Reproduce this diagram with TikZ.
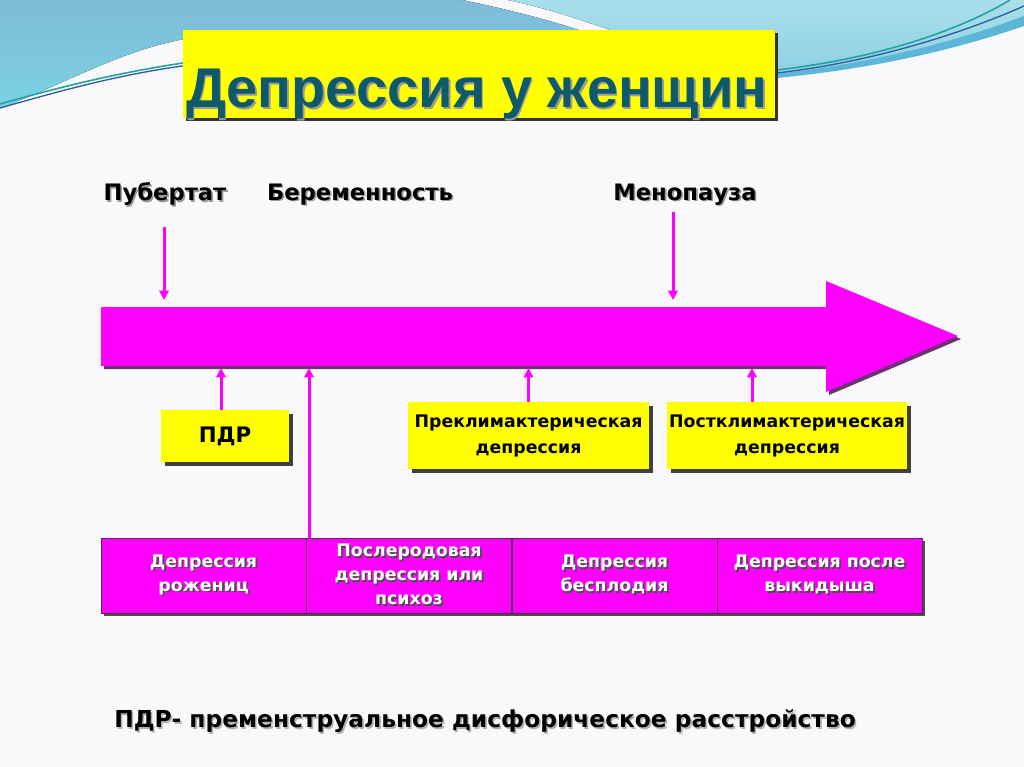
\documentclass[tikz,border=0pt]{standalone}
\usepackage{fontspec}
\setmainfont{DejaVu Sans}
\newfontfamily\titlefont{Liberation Sans}
\usetikzlibrary{arrows.meta,shadows}
\definecolor{mag}{HTML}{FF00FF}
\definecolor{yel}{HTML}{FFFF00}
\definecolor{titleteal}{HTML}{0F5A6A}
\definecolor{bgc}{HTML}{F9F9FB}
\definecolor{blueA}{HTML}{7EBBD8}
\definecolor{blueB}{HTML}{7AD2E2}
\definecolor{blueC}{HTML}{A9DFEA}
\definecolor{blueD}{HTML}{8ECFE4}
\definecolor{blueBand}{HTML}{5CB6D8}
\definecolor{lineteal}{HTML}{22A3A0}
\definecolor{lineblue}{HTML}{2D5E9E}
\definecolor{arrshadow}{HTML}{6A3570}
\definecolor{celledge}{HTML}{5A245A}
\newcommand\shd[2]{\makebox[0pt][l]{\hspace{1.2pt}\raisebox{-1.2pt}{\textcolor{#1}{#2}}}#2}
\tikzset{
  ybox/.style={fill=yel, draw=none, inner sep=0pt,
    drop shadow={shadow xshift=3pt, shadow yshift=-3pt, fill=black!75, opacity=1},
    font=\bfseries\fontsize{13pt}{19.5pt}\selectfont, align=center},
  cell/.style={fill=mag, draw=celledge, line width=0.6pt, inner sep=0pt,
    minimum width=153.75pt, minimum height=56.25pt, text=white,
    font=\bfseries\fontsize{13pt}{18pt}\selectfont, align=center},
  lab/.style={inner sep=0pt, font=\bfseries\fontsize{17pt}{20pt}\selectfont},
  pin/.style={draw=mag, line width=2.25pt, -{Triangle[width=7pt,length=7pt]}}
}
\begin{document}
\begin{tikzpicture}[x=0.75pt,y=-0.75pt]
\useasboundingbox (0,0) rectangle (1024,767);
\fill[bgc] (0,0) rectangle (1024,767);
% decorative waves
\fill[top color=blueA, bottom color=blueB]
  (0,0) -- (462,0) .. controls (520,12) and (570,25) .. (620,45) -- (620,60)
  -- (190,60) -- (190,38) .. controls (120,50) and (70,82) .. (0,108) -- cycle;
\fill[top color=blueC, bottom color=blueD]
  (508,0) -- (1024,0) -- (1024,22) .. controls (950,45) and (870,66) .. (777,77)
  -- (640,77) -- (640,40) .. controls (595,25) and (555,10) .. (508,0) -- cycle;
\fill[blueBand] (777,74) .. controls (880,62) and (960,40) .. (1024,16) -- (1024,26)
  .. controls (960,48) and (880,68) .. (777,78) -- cycle;
\draw[lineteal, line width=1.2pt] (0,104) .. controls (60,87) and (120,72) .. (190,62);
\draw[lineblue, line width=1pt] (0,108) .. controls (60,91) and (120,74) .. (190,65);
\draw[lineteal, line width=1.2pt] (777,70) .. controls (880,58) and (960,30) .. (1010,0);
\draw[lineblue, line width=1pt] (777,73) .. controls (880,61) and (970,30) .. (1024,6);
% title
\node[fill=yel, minimum width=444pt, minimum height=66pt, inner sep=0pt,
  drop shadow={shadow xshift=2.5pt, shadow yshift=-2.5pt, fill=black!80, opacity=1}]
  (titlebox) at (479,74) {};
\node[anchor=base west, inner sep=0pt, text=titleteal,
  font=\titlefont\bfseries\fontsize{42pt}{42pt}\selectfont]
  (title) at (186,108) {\shd{black!40}{Депрессия у женщин}};
% timeline labels
\node[lab] (pub) at (165,195) {\shd{black!40}{Пубертат}};
\node[lab] (ber) at (360,195) {\shd{black!40}{Беременность}};
\node[lab] (men) at (685,195) {\shd{black!40}{Менопауза}};
% big arrow
\fill[arrshadow] (104,310) -- (829,310) -- (829,284) -- (961,339) -- (829,395) -- (829,369) -- (104,369) -- cycle;
\fill[mag] (101,307) -- (826,307) -- (826,281) -- (958,336) -- (826,392) -- (826,366) -- (101,366) -- cycle;
\coordinate (arrtop) at (101,300);
\coordinate (arrbot) at (101,368);
% yellow boxes
\node[ybox, minimum width=96pt, minimum height=39pt, font=\bfseries\fontsize{16pt}{19pt}\selectfont] (pdr) at (225,436) {ПДР};
\node[ybox, minimum width=180.75pt, minimum height=50.25pt] (pre) at (528.5,435.5)
  {Преклимактерическая\\депрессия};
\node[ybox, minimum width=180pt, minimum height=50.25pt] (post) at (787,435.5)
  {Постклимактерическая\\депрессия};
% table
\fill[black!70] (104,541) rectangle (925,616);
\node[cell] (c1) at (203.5,575.5) {\shd{black!70}{Депрессия}\\\shd{black!70}{рожениц}};
\node[cell] (c2) at (409,575.5) {\shd{black!70}{Послеродовая}\\\shd{black!70}{депрессия или}\\\shd{black!70}{психоз}};
\node[cell] (c3) at (614.5,575.5) {\shd{black!70}{Депрессия}\\\shd{black!70}{бесплодия}};
\node[cell] (c4) at (819.5,575.5) {\shd{black!70}{Депрессия после}\\\shd{black!70}{выкидыша}};
% pins
\draw[pin] ([xshift=-0.75pt, yshift=-15pt]pub.south) -- ([xshift=-0.75pt]pub.south |- arrtop);
\draw[pin] ([xshift=-9pt, yshift=-3.75pt]men.south) -- ([xshift=-9pt]men.south |- arrtop);
\draw[pin] ([xshift=-3pt]pdr.north) -- ([xshift=-3pt]pdr.north |- arrbot);
\draw[pin] ([xshift=-75pt]c2.north) -- ([xshift=-75pt]c2.north |- arrbot);
\draw[pin] (pre.north) -- (pre.north |- arrbot);
\draw[pin] ([xshift=-26.25pt]post.north) -- ([xshift=-26.25pt]post.north |- arrbot);
% note
\node[lab, font=\bfseries\fontsize{17.5pt}{20pt}\selectfont] (note) at (485,722)
  {\shd{black!30}{ПДР- пременструальное дисфорическое расстройство}};
\end{tikzpicture}
\end{document}
